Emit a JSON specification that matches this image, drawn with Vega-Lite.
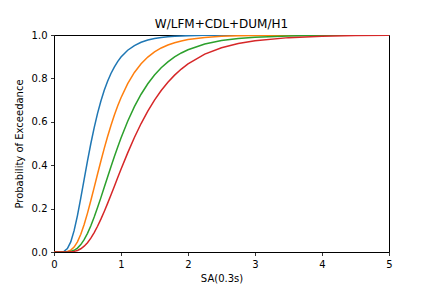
{
  "$schema": "https://vega.github.io/schema/vega-lite/v6.json",
  "width": 335,
  "height": 217,
  "autosize": {"type": "none"},
  "padding": {"left": 54, "top": 35, "right": 43, "bottom": 36},
  "title": {"text": "W/LFM+CDL+DUM/H1", "fontSize": 12, "font": "DejaVu Sans", "fontWeight": "normal", "color": "black", "frame": "group", "anchor": "middle", "baseline": "alphabetic", "offset": -10},
  "config": {
    "view": {"stroke": "black", "strokeWidth": 1},
    "axis": {"domain": false, "grid": false, "labelFlush": false, "tickColor": "black", "tickSize": 3.5, "tickWidth": 0.8, "labelFont": "DejaVu Sans", "labelFontSize": 10, "labelColor": "black", "labelPadding": 3.5, "titleFont": "DejaVu Sans", "titleFontSize": 10, "titleFontWeight": "normal", "titleColor": "black"}
  },
  "datasets": {
    "curves": [
      {"s":"a","x":0.0,"p":0},{"s":"a","x":0.1,"p":0.0001},{"s":"a","x":0.15,"p":0.0028},{"s":"a","x":0.2,"p":0.0157},{"s":"a","x":0.25,"p":0.0467},{"s":"a","x":0.3,"p":0.0985},{"s":"a","x":0.35,"p":0.168},{"s":"a","x":0.4,"p":0.249},{"s":"a","x":0.45,"p":0.3347},{"s":"a","x":0.5,"p":0.4196},{"s":"a","x":0.55,"p":0.5},{"s":"a","x":0.6,"p":0.5734},{"s":"a","x":0.65,"p":0.6388},{"s":"a","x":0.7,"p":0.696},{"s":"a","x":0.75,"p":0.7453},{"s":"a","x":0.8,"p":0.7873},{"s":"a","x":0.85,"p":0.8228},{"s":"a","x":0.9,"p":0.8524},{"s":"a","x":0.95,"p":0.8775},{"s":"a","x":1.0,"p":0.8983},{"s":"a","x":1.1,"p":0.9298},{"s":"a","x":1.2,"p":0.9515},{"s":"a","x":1.3,"p":0.9664},{"s":"a","x":1.4,"p":0.9766},{"s":"a","x":1.5,"p":0.9836},{"s":"a","x":1.6,"p":0.9885},{"s":"a","x":1.7,"p":0.9918},{"s":"a","x":1.8,"p":0.9942},{"s":"a","x":1.9,"p":0.9958},{"s":"a","x":2.0,"p":0.997},{"s":"a","x":2.25,"p":0.9986},{"s":"a","x":2.5,"p":0.9994},{"s":"a","x":2.75,"p":0.9997},{"s":"a","x":3.0,"p":0.9998},{"s":"a","x":3.5,"p":1.0},
      {"s":"b","x":0.0,"p":0},{"s":"b","x":0.15,"p":0.0003},{"s":"b","x":0.2,"p":0.0021},{"s":"b","x":0.25,"p":0.0084},{"s":"b","x":0.3,"p":0.0225},{"s":"b","x":0.35,"p":0.0467},{"s":"b","x":0.4,"p":0.0818},{"s":"b","x":0.45,"p":0.1266},{"s":"b","x":0.5,"p":0.1792},{"s":"b","x":0.55,"p":0.2371},{"s":"b","x":0.6,"p":0.2978},{"s":"b","x":0.65,"p":0.3593},{"s":"b","x":0.7,"p":0.4196},{"s":"b","x":0.75,"p":0.4777},{"s":"b","x":0.8,"p":0.5325},{"s":"b","x":0.85,"p":0.5833},{"s":"b","x":0.9,"p":0.63},{"s":"b","x":0.95,"p":0.6726},{"s":"b","x":1.0,"p":0.711},{"s":"b","x":1.1,"p":0.776},{"s":"b","x":1.2,"p":0.8274},{"s":"b","x":1.3,"p":0.8674},{"s":"b","x":1.4,"p":0.8983},{"s":"b","x":1.5,"p":0.922},{"s":"b","x":1.6,"p":0.9402},{"s":"b","x":1.7,"p":0.954},{"s":"b","x":1.8,"p":0.9646},{"s":"b","x":1.9,"p":0.9727},{"s":"b","x":2.0,"p":0.9789},{"s":"b","x":2.25,"p":0.9887},{"s":"b","x":2.5,"p":0.9939},{"s":"b","x":2.75,"p":0.9966},{"s":"b","x":3.0,"p":0.9981},{"s":"b","x":3.5,"p":0.9994},{"s":"b","x":4.0,"p":0.9998},{"s":"b","x":4.5,"p":1.0},
      {"s":"c","x":0.0,"p":0},{"s":"c","x":0.15,"p":0},{"s":"c","x":0.2,"p":0.0006},{"s":"c","x":0.25,"p":0.0026},{"s":"c","x":0.3,"p":0.0078},{"s":"c","x":0.35,"p":0.0178},{"s":"c","x":0.4,"p":0.0339},{"s":"c","x":0.45,"p":0.0567},{"s":"c","x":0.5,"p":0.0859},{"s":"c","x":0.55,"p":0.1211},{"s":"c","x":0.6,"p":0.161},{"s":"c","x":0.65,"p":0.2046},{"s":"c","x":0.7,"p":0.2506},{"s":"c","x":0.75,"p":0.298},{"s":"c","x":0.8,"p":0.3456},{"s":"c","x":0.85,"p":0.3928},{"s":"c","x":0.9,"p":0.4386},{"s":"c","x":0.95,"p":0.4829},{"s":"c","x":1.0,"p":0.5251},{"s":"c","x":1.1,"p":0.6023},{"s":"c","x":1.2,"p":0.6696},{"s":"c","x":1.3,"p":0.727},{"s":"c","x":1.4,"p":0.7754},{"s":"c","x":1.5,"p":0.8157},{"s":"c","x":1.6,"p":0.849},{"s":"c","x":1.7,"p":0.8763},{"s":"c","x":1.8,"p":0.8988},{"s":"c","x":1.9,"p":0.9172},{"s":"c","x":2.0,"p":0.9322},{"s":"c","x":2.25,"p":0.9586},{"s":"c","x":2.5,"p":0.9745},{"s":"c","x":2.75,"p":0.9842},{"s":"c","x":3.0,"p":0.99},{"s":"c","x":3.5,"p":0.9959},{"s":"c","x":4.0,"p":0.9983},{"s":"c","x":4.5,"p":0.9992},{"s":"c","x":5.0,"p":0.9996},
      {"s":"d","x":0.0,"p":0},{"s":"d","x":0.2,"p":0.0002},{"s":"d","x":0.25,"p":0.0009},{"s":"d","x":0.3,"p":0.0029},{"s":"d","x":0.35,"p":0.0072},{"s":"d","x":0.4,"p":0.0149},{"s":"d","x":0.45,"p":0.0267},{"s":"d","x":0.5,"p":0.043},{"s":"d","x":0.55,"p":0.0639},{"s":"d","x":0.6,"p":0.0893},{"s":"d","x":0.65,"p":0.1186},{"s":"d","x":0.7,"p":0.1513},{"s":"d","x":0.75,"p":0.1867},{"s":"d","x":0.8,"p":0.2242},{"s":"d","x":0.85,"p":0.2629},{"s":"d","x":0.9,"p":0.3022},{"s":"d","x":0.95,"p":0.3418},{"s":"d","x":1.0,"p":0.381},{"s":"d","x":1.1,"p":0.4568},{"s":"d","x":1.2,"p":0.5276},{"s":"d","x":1.3,"p":0.592},{"s":"d","x":1.4,"p":0.6495},{"s":"d","x":1.5,"p":0.7001},{"s":"d","x":1.6,"p":0.7442},{"s":"d","x":1.7,"p":0.7823},{"s":"d","x":1.8,"p":0.815},{"s":"d","x":1.9,"p":0.843},{"s":"d","x":2.0,"p":0.8669},{"s":"d","x":2.25,"p":0.9118},{"s":"d","x":2.5,"p":0.9414},{"s":"d","x":2.75,"p":0.9609},{"s":"d","x":3.0,"p":0.9738},{"s":"d","x":3.5,"p":0.9879},{"s":"d","x":4.0,"p":0.9942},{"s":"d","x":4.5,"p":0.9972},{"s":"d","x":5.0,"p":0.9986}
    ]
  },
  "data": {"name": "curves"},
  "mark": {"type": "line", "strokeWidth": 1.5, "clip": true},
  "encoding": {
    "x": {"field": "x", "type": "quantitative", "scale": {"domain": [0, 5], "nice": false, "zero": false}, "axis": {"title": "SA(0.3s)", "values": [0,1,2,3,4,5], "format": "d", "titlePadding": 4}},
    "y": {"field": "p", "type": "quantitative", "scale": {"domain": [0, 1], "nice": false}, "axis": {"title": "Probability of Exceedance", "values": [0,0.2,0.4,0.6,0.8,1.0], "format": ".1f", "titlePadding": 7}},
    "color": {"field": "s", "type": "nominal", "legend": null, "scale": {"domain": ["a","b","c","d"], "range": ["#1f77b4","#ff7f0e","#2ca02c","#d62728"]}},
    "order": {"field": "x", "type": "quantitative"}
  }
}
